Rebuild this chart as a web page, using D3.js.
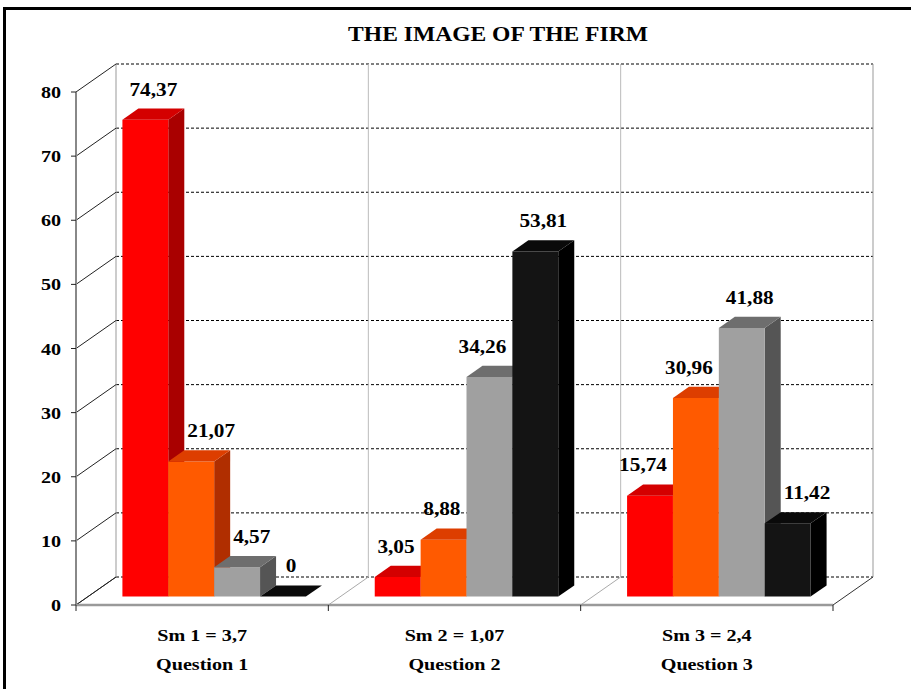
<!DOCTYPE html>
<html>
<head>
<meta charset="utf-8">
<script src="https://cdn.jsdelivr.net/npm/d3@7"></script>
<style>
  html, body { margin: 0; padding: 0; background: #fff; }
  svg { display: block; }
  text { font-family: "Liberation Serif", "Times New Roman", serif; font-weight: bold; fill: #000; }
</style>
</head>
<body>
<svg id="chart" width="911" height="689"></svg>
<script>
// ---- data ----
const title = "THE IMAGE OF THE FIRM";
const categories = ["Question 1", "Question 2", "Question 3"];
const categorySubLabels = ["Sm 1 = 3,7", "Sm 2 = 1,07", "Sm 3 = 2,4"];
const seriesNames = ["Series 1", "Series 2", "Series 3", "Series 4"];
const seriesRed = [74.37, 3.05, 15.74];
const seriesOrange = [21.07, 8.88, 30.96];
const seriesGray = [4.57, 34.26, 41.88];
const seriesBlack = [0, 53.81, 11.42];
const yTicks = [0, 10, 20, 30, 40, 50, 60, 70, 80];

// ---- styles ----
const seriesValues = [seriesRed, seriesOrange, seriesGray, seriesBlack];
const faceColors = [
  { front: "#FF0000", top: "#D40000", side: "#A90000" },
  { front: "#FF5A00", top: "#DD3E00", side: "#B02E00" },
  { front: "#A0A0A0", top: "#6E6E6E", side: "#555555" },
  { front: "#141414", top: "#0A0A0A", side: "#000000" }
];
const STRETCH = 1.15;

const svg = d3.select("#chart");

function label(parent, x, yy, txt, size, anchor) {
  return parent.append("text")
    .attr("transform", `translate(${x},${yy}) scale(${STRETCH},1)`)
    .attr("text-anchor", anchor || "middle")
    .style("font-size", size + "px").text(txt);
}

// frame
svg.append("path").attr("d", "M4.5,700 L4.5,8.5 L920,8.5")
  .attr("fill", "none").attr("stroke", "#000").attr("stroke-width", 3);

// title
label(svg, 498, 41, title, 20.5);

// ---- 3D geometry ----
const x0 = 76, x1 = 833;           // front floor edge
const depth = { dx: 40, dy: -28 }; // wall depth offset
const y = d3.scaleLinear().domain([0, 80]).range([605, 92]); // front plane
const xCat = d3.scaleBand().domain(categories).range([x0, x1]).paddingInner(0).paddingOuter(0);
const xSer = d3.scaleBand().domain(seriesNames).range([0, xCat.bandwidth()]).paddingInner(0).paddingOuter(0.75);
const t0 = 0.3, t1 = 0.7; // bar depth span as fraction of wall depth

function P(x, v, t) { // point on plane at depth t (0 front, 1 back)
  return [x + depth.dx * t, y(v) + depth.dy * t];
}
function poly(pts) { return "M" + pts.map(p => p.join(",")).join("L") + "Z"; }

const g = svg.append("g");

// back wall gridlines (dashed)
yTicks.forEach(v => {
  const a = P(x0, v, 1), b = P(x1, v, 1);
  g.append("line").attr("x1", a[0]).attr("y1", a[1]).attr("x2", b[0]).attr("y2", b[1])
    .attr("stroke", "#000").attr("stroke-width", 1).attr("stroke-dasharray", "3,2");
});
// back wall verticals
const catEdges = categories.map(c => xCat(c)).concat([x1]);
catEdges.forEach((xe, i) => {
  const a = P(xe, 0, 1), b = P(xe, 80, 1);
  const edge = (i === 0 || i === catEdges.length - 1);
  g.append("line").attr("x1", a[0]).attr("y1", a[1]).attr("x2", b[0]).attr("y2", b[1])
    .attr("stroke", edge ? "#999" : "#bbb").attr("stroke-width", 1);
});
// floor diagonals
catEdges.forEach((xe, i) => {
  const a = P(xe, 0, 0), b = P(xe, 0, 1);
  const edge = (i === 0 || i === catEdges.length - 1);
  g.append("line").attr("x1", a[0]).attr("y1", a[1]).attr("x2", b[0]).attr("y2", b[1])
    .attr("stroke", edge ? "#333" : "#aaa").attr("stroke-width", 1);
});
// side wall diagonals
yTicks.forEach(v => {
  const a = P(x0, v, 0), b = P(x0, v, 1);
  g.append("line").attr("x1", a[0]).attr("y1", a[1]).attr("x2", b[0]).attr("y2", b[1])
    .attr("stroke", "#222").attr("stroke-width", 1);
});
// front floor edge
g.append("line").attr("x1", x0).attr("y1", y(0)).attr("x2", x1).attr("y2", y(0))
  .attr("stroke", "#9a9a9a").attr("stroke-width", 2.5);
// category ticks
catEdges.forEach(xe => {
  g.append("line").attr("x1", xe).attr("y1", y(0)).attr("x2", xe).attr("y2", y(0) + 6)
    .attr("stroke", "#222").attr("stroke-width", 1);
});
// y axis line
g.append("line").attr("x1", x0).attr("y1", y(0)).attr("x2", x0).attr("y2", y(80))
  .attr("stroke", "#888").attr("stroke-width", 2);
// y ticks and labels
yTicks.forEach(v => {
  g.append("line").attr("x1", x0 - 5).attr("y1", y(v)).attr("x2", x0).attr("y2", y(v))
    .attr("stroke", "#222").attr("stroke-width", 1);
  label(g, 61, y(v) + 6, v, 17.5, "end");
});

// ---- bars ----
const fmt = v => String(v).replace(".", ",");
const barLayer = svg.append("g");
const labelLayer = svg.append("g");
const barSideDx = (t1 - t0) * depth.dx;

categories.forEach((cat, ci) => {
  const geo = seriesNames.map((s, si) => {
    const v = seriesValues[si][ci];
    const xl = xCat(cat) + xSer(s);
    const xr = xl + xSer.bandwidth();
    return {
      v, c: faceColors[si],
      fBL: P(xl, 0, t0), fBR: P(xr, 0, t0), fTL: P(xl, v, t0), fTR: P(xr, v, t0),
      bBR: P(xr, 0, t1), bTL: P(xl, v, t1), bTR: P(xr, v, t1)
    };
  });
  geo.forEach(b => {
    if (b.v > 0) {
      barLayer.append("path").attr("d", poly([b.fBR, b.bBR, b.bTR, b.fTR])).attr("fill", b.c.side);
      barLayer.append("path").attr("d", poly([b.fBL, b.fBR, b.fTR, b.fTL])).attr("fill", b.c.front);
    }
    barLayer.append("path").attr("d", poly([b.fTL, b.fTR, b.bTR, b.bTL])).attr("fill", b.c.top);
  });
  // value labels, nudged sideways to avoid covering taller neighbours
  geo.forEach((b, i) => {
    const baseY = b.bTL[1] - 13;
    let cx = (b.fTL[0] + b.bTR[0]) / 2;
    const t = label(labelLayer, cx, baseY, fmt(b.v), 18.5);
    const w = t.node().getComputedTextLength() * STRETCH;
    const top = baseY - 13;
    const prev = geo[i - 1], next = geo[i + 1];
    if (next && next.fTL[1] < baseY && cx + w / 2 > next.fTL[0] - 4) {
      cx = next.fTL[0] - 6 - w / 2;
    }
    if (prev && prev.bTR[1] < baseY && cx - w / 2 < b.fTL[0] + barSideDx + 3) {
      cx = b.fTL[0] + barSideDx + 3 + w / 2;
    }
    t.attr("transform", `translate(${cx},${baseY}) scale(${STRETCH},1)`);
  });
});

// category labels
categories.forEach((cat, ci) => {
  const cx = xCat(cat) + xCat.bandwidth() / 2;
  label(svg, cx, 641, categorySubLabels[ci], 17.5);
  label(svg, cx, 670, cat, 17.5);
});
</script>
</body>
</html>
